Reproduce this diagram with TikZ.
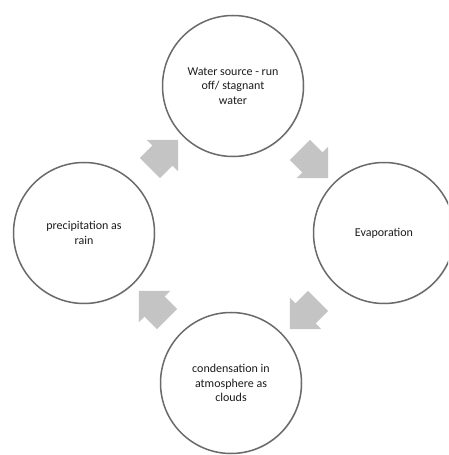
\documentclass[tikz,border=0pt]{standalone}
\usepackage{fontspec}
\setmainfont{Carlito}
\usetikzlibrary{shapes.arrows,shadows}
\definecolor{ringgray}{HTML}{6A6A6A}
\definecolor{arrowgray}{HTML}{C4C4C4}
\definecolor{labelgray}{HTML}{1C1C1C}
\tikzset{
  stage/.style={circle, draw=ringgray, line width=1.5pt, fill=white,
    minimum size=141pt, inner sep=0pt, align=center, text=labelgray,
    font=\fontsize{12}{14.5}\selectfont,
    drop shadow={opacity=0.18, shadow xshift=0.8pt, shadow yshift=-0.8pt}},
  flowarrow/.style={single arrow, fill=arrowgray, draw=none,
    minimum height=40pt, inner xsep=0pt, inner ysep=14pt,
    single arrow head extend=8pt, single arrow tip angle=90}
}
\begin{document}
\begin{tikzpicture}[x=1pt,y=1pt]
  \useasboundingbox (0,0) rectangle (448,455);
  \clip (0,0) rectangle (448,455);
  \fill[white] (0,0) rectangle (448,455);

  % the four stages of the cycle
  \node[stage] (source) at (233,369) {Water source - run\\off/ stagnant\\water};
  \node[stage] (evap)   at (384,222) {Evaporation};
  \node[stage] (cond)   at (231,72)  {condensation in\\atmosphere as\\clouds};
  \node[stage] (rain)   at (84,222)  {precipitation as\\rain};

  % block arrows between the stages, running clockwise
  \node[flowarrow, rotate=-45]  (a1) at (309,296) {};
  \node[flowarrow, rotate=-135] (a2) at (309,145) {};
  \node[flowarrow, rotate=135]  (a3) at (158,145) {};
  \node[flowarrow, rotate=45]   (a4) at (159,296) {};
\end{tikzpicture}
\end{document}
